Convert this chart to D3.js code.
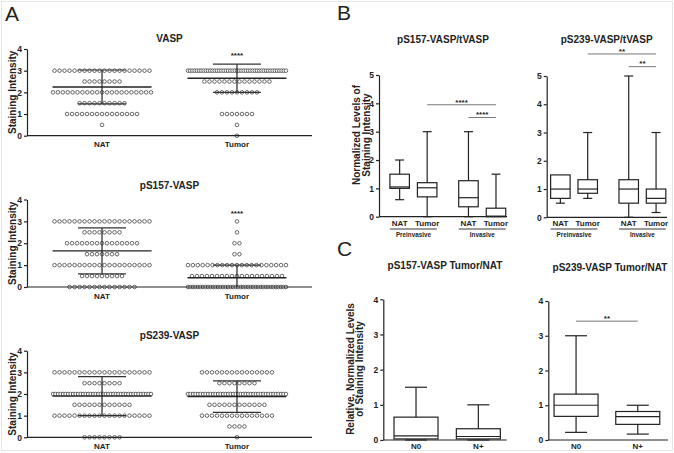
<!DOCTYPE html>
<html><head><meta charset="utf-8">
<script src="https://cdn.jsdelivr.net/npm/d3@7"></script>
<style>
body{margin:0;background:#fff}
text{font-family:"Liberation Sans",Arial,sans-serif;font-weight:bold;fill:#222}
</style></head><body>
<script>
// ---------- DATA ----------
const levels=[0,0.5,1,1.5,2,2.5,3];
const dotGroups=["NAT","Tumor"];
const dotTicks=[0,1,2,3,4];
// counts of cores per staining level (levels order)
const vaspNAT=[0,1,15,10,21,8,20];
const vaspTumor=[1,1,7,0,9,14,45];
const vaspMean=[2.25,2.65];
const vaspSD=[0.78,0.65];
const pS157NAT=[14,9,20,7,15,8,20];
const pS157Tumor=[40,19,21,2,2,1,1];
const pS157Mean=[1.65,0.42];
const pS157SD=[1.05,0.58];
const pS239NAT=[8,0,20,12,40,8,20];
const pS239Tumor=[1,4,15,12,40,8,15];
const pS239Mean=[1.9,1.88];
const pS239SD=[0.9,0.73];

const ratioCats=["NAT","Tumor","NAT","Tumor"];
const ratioStages=["Preinvasive","Invasive"];
const ratioTicks=[0,1,2,3,4,5];
const b157Min=[0.6,0,0,0], b157Q1=[1.0,0.7,0.35,0], b157Med=[1.05,1.02,0.67,0.02], b157Q3=[1.5,1.2,1.27,0.3], b157Max=[2,3,3,1.5];
const b239Min=[0.5,0.67,0,0.17], b239Q1=[0.67,0.85,0.5,0.5], b239Med=[1.0,1.0,1.0,0.67], b239Q3=[1.5,1.33,1.33,1.0], b239Max=[1.5,3,5,3];
const sigB157From=[1,2], sigB157To=[3,3], sigB157At=[3.95,3.5], sigB157Text=["****","****"];
const sigB239From=[1,2], sigB239To=[3,3], sigB239At=[5.78,5.33], sigB239Text=["**","**"];

const nodeCats=["N0","N+"];
const nodeTicks=[0,1,2,3,4];
const c157Min=[0,0], c157Q1=[0.03,0.03], c157Med=[0.12,0.1], c157Q3=[0.65,0.32], c157Max=[1.5,1.0];
const c239Min=[0.22,0.17], c239Q1=[0.68,0.45], c239Med=[1.0,0.67], c239Q3=[1.32,0.82], c239Max=[3.0,1.0];
const sigC239From=[0], sigC239To=[1], sigC239At=[3.42], sigC239Text=["**"];

// ---------- SETUP ----------
const W=674,H=453;
const INK="#222";
const svg=d3.select("body").append("svg").attr("width",W).attr("height",H).style("display","block");
svg.append("rect").attr("x",1.5).attr("y",1.5).attr("width",W-3).attr("height",H-4)
  .attr("fill","none").attr("stroke","#e6e6e6");

[["A",5,20.7],["B",337,20],["C",337,255.5]].forEach(([t,x,y])=>
  svg.append("text").attr("x",x).attr("y",y).text(t).style("font-size","21px").style("font-weight","normal"));

function ln(g,x1,y1,x2,y2,col,w){
  g.append("line").attr("x1",x1).attr("y1",y1).attr("x2",x2).attr("y2",y2)
   .attr("stroke",col||INK).attr("stroke-width",w||1.2);
}
function yAxis(g,y,ticks,x0){
  const a=g.append("g").attr("transform",`translate(${x0},0)`)
    .call(d3.axisLeft(y).tickValues(ticks).tickFormat(d3.format("d")).tickSize(3).tickSizeOuter(0).tickPadding(2));
  a.selectAll("path,line").attr("stroke",INK).attr("stroke-width",1.2);
  a.selectAll("text").style("font-size","8.5px").style("font-family","Liberation Sans, Arial, sans-serif").style("font-weight","bold").attr("fill",INK);
}
function yLabel(g,lines,xs,cy,size){
  lines.forEach((t,i)=>g.append("text").attr("transform",`translate(${xs[i]},${cy}) rotate(-90)`)
    .attr("text-anchor","middle").style("font-size",(size||10)+"px").text(t));
}
function title(g,t,cx,by){
  g.append("text").attr("x",cx).attr("y",by).attr("text-anchor","middle").style("font-size","10px").text(t);
}
function stars(g,t,cx,cyCenter,size){
  g.append("text").attr("x",cx).attr("y",cyCenter+0.6*(size||8)).attr("text-anchor","middle")
   .style("font-size",(size||8)+"px").text(t);
}

// ---------- PANEL A: dot plots ----------
function dotPlot(cfg){
  const g=svg.append("g");
  const y=d3.scaleLinear().domain([0,4]).range([cfg.y0,cfg.y4]);
  const x=d3.scalePoint().domain(dotGroups).range([27,312]).padding(0.556);
  title(g,cfg.title,169.5,cfg.titleY);
  yLabel(g,["Staining Intensity"],[16],(cfg.y0+cfg.y4)/2);
  // dots
  [cfg.nat,cfg.tum].forEach((counts,gi)=>{
    const cx=x(dotGroups[gi]);
    counts.forEach((n,li)=>{
      if(!n) return;
      const s=n>1?Math.min(5,98/(n-1)):0;
      d3.range(n).forEach(i=>{
        g.append("circle").attr("cx",cx+(i-(n-1)/2)*s).attr("cy",y(levels[li])).attr("r",1.8)
          .attr("fill","#fff").attr("stroke","#444").attr("stroke-width",0.8);
      });
    });
  });
  // mean & SD
  dotGroups.forEach((grp,gi)=>{
    const cx=x(grp), m=cfg.mean[gi], sd=cfg.sd[gi];
    const hi=m+sd, lo=Math.max(0,m-sd);
    ln(g,cx,y(hi),cx,y(lo),INK,1.2);
    ln(g,cx-24,y(hi),cx+24,y(hi),"#333",1.2);
    if(m-sd>=0) ln(g,cx-24,y(lo),cx+24,y(lo),"#333",1.2);
    ln(g,cx-49.5,y(m),cx+49.5,y(m),INK,1.4);
  });
  // axes
  ln(g,27,cfg.y0,312,cfg.y0,INK,1.2);
  yAxis(g,y,dotTicks,27);
  dotGroups.forEach(grp=>g.append("text").attr("x",x(grp)).attr("y",cfg.y0+11.5)
    .attr("text-anchor","middle").style("font-size","8px").text(grp));
  if(cfg.sig) stars(g,cfg.sig[1],x("Tumor"),y(cfg.sig[0]),8);
}
dotPlot({title:"VASP",titleY:41.7,y0:135.7,y4:49,nat:vaspNAT,tum:vaspTumor,mean:vaspMean,sd:vaspSD,sig:[3.82,"****"]});
dotPlot({title:"pS157-VASP",titleY:189,y0:287,y4:199.5,nat:pS157NAT,tum:pS157Tumor,mean:pS157Mean,sd:pS157SD,sig:[3.48,"****"]});
dotPlot({title:"pS239-VASP",titleY:339.3,y0:437.3,y4:350.7,nat:pS239NAT,tum:pS239Tumor,mean:pS239Mean,sd:pS239SD});

// ---------- box helper ----------
function boxes(g,xs,y,mn,q1,md,q3,mx,bw,cw){
  xs.forEach((cx,i)=>{
    if(mx[i]>q3[i]){ ln(g,cx,y(mx[i]),cx,y(q3[i])); ln(g,cx-cw/2,y(mx[i]),cx+cw/2,y(mx[i])); }
    if(mn[i]<q1[i]){ ln(g,cx,y(q1[i]),cx,y(mn[i])); ln(g,cx-cw/2,y(mn[i]),cx+cw/2,y(mn[i])); }
    g.append("rect").attr("x",cx-bw/2).attr("y",y(q3[i])).attr("width",bw).attr("height",Math.max(0,y(q1[i])-y(q3[i])))
      .attr("fill","none").attr("stroke",INK).attr("stroke-width",1.2);
    ln(g,cx-bw/2,y(md[i]),cx+bw/2,y(md[i]),INK,1.2);
  });
}
function sigBars(g,xs,y,from,to,at,txt){
  at.forEach((v,i)=>{
    const x1=xs[from[i]], x2=xs[to[i]];
    ln(g,x1,y(v),x2,y(v),"#777",1);
    stars(g,txt[i],(x1+x2)/2,y(v)-5,8);
  });
}

// ---------- PANEL B ----------
function ratioPlot(cfg){
  const g=svg.append("g");
  const y=d3.scaleLinear().domain([0,5]).range([cfg.y0,cfg.y5]);
  const x=d3.scaleLinear().domain(cfg.xdom).range([cfg.ax0,cfg.ax1]);
  const xs=ratioCats.map((c,i)=>x(Math.floor(i/2)*2.5+(i%2)));
  title(g,cfg.title,cfg.tx,43.3);
  boxes(g,xs,y,cfg.mn,cfg.q1,cfg.md,cfg.q3,cfg.mx,19.5,9);
  ln(g,cfg.ax0,cfg.y0,cfg.ax1,cfg.y0,INK,1.2);
  yAxis(g,y,ratioTicks,cfg.ax0);
  ratioCats.forEach((c,i)=>g.append("text").attr("x",xs[i]).attr("y",226).attr("text-anchor","middle").style("font-size","8px").text(c));
  ratioStages.forEach((s,k)=>{
    const a=xs[2*k]-9.75, b=xs[2*k+1]+9.75;
    ln(g,a,229,b,229,INK,0.9);
    g.append("text").attr("x",(a+b)/2).attr("y",236.5).attr("text-anchor","middle").style("font-size","6.3px").text(s);
  });
  sigBars(g,xs,y,cfg.sf,cfg.st,cfg.sa,cfg.stx);
  return g;
}
const gB1=ratioPlot({title:"pS157-VASP/tVASP",tx:443,y0:216.7,y5:75,xdom:[-0.75,3.9],ax0:379,ax1:507,
  mn:b157Min,q1:b157Q1,md:b157Med,q3:b157Q3,mx:b157Max,sf:sigB157From,st:sigB157To,sa:sigB157At,stx:sigB157Text});
yLabel(gB1,["Normalized Levels of","Staining Intensity"],[360,370],135);
ratioPlot({title:"pS239-VASP/tVASP",tx:606.7,y0:217.3,y5:76,xdom:[-0.5,3.9],ax0:546.7,ax1:667,
  mn:b239Min,q1:b239Q1,md:b239Med,q3:b239Q3,mx:b239Max,sf:sigB239From,st:sigB239To,sa:sigB239At,stx:sigB239Text});

// ---------- PANEL C ----------
function nodePlot(cfg){
  const g=svg.append("g");
  const y=d3.scaleLinear().domain([0,4]).range([cfg.y0,cfg.y4]);
  const x=d3.scaleLinear().domain(cfg.xdom).range([cfg.ax0,cfg.ax1]);
  const xs=nodeCats.map((c,i)=>x(i));
  title(g,cfg.title,cfg.tx,cfg.ty);
  boxes(g,xs,y,cfg.mn,cfg.q1,cfg.md,cfg.q3,cfg.mx,44,22);
  ln(g,cfg.ax0,cfg.y0,cfg.ax1,cfg.y0,INK,1.2);
  yAxis(g,y,nodeTicks,cfg.ax0);
  nodeCats.forEach((c,i)=>g.append("text").attr("x",xs[i]).attr("y",449).attr("text-anchor","middle").style("font-size","8px").text(c));
  if(cfg.sa) sigBars(g,xs,y,cfg.sf,cfg.st,cfg.sa,cfg.stx);
  return g;
}
const gC1=nodePlot({title:"pS157-VASP Tumor/NAT",tx:445,ty:269,y0:440,y4:299.3,xdom:[-0.525,1.455],ax0:383.3,ax1:506.7,
  mn:c157Min,q1:c157Q1,md:c157Med,q3:c157Q3,mx:c157Max});
yLabel(gC1,["Relative, Normalized Levels","of Staining Intensity"],[353.5,363],369);
nodePlot({title:"pS239-VASP Tumor/NAT",tx:610,ty:270.5,y0:440,y4:301,xdom:[-0.45,1.49],ax0:548.3,ax1:668,
  mn:c239Min,q1:c239Q1,md:c239Med,q3:c239Q3,mx:c239Max,sf:sigC239From,st:sigC239To,sa:sigC239At,stx:sigC239Text});
</script></body></html>
